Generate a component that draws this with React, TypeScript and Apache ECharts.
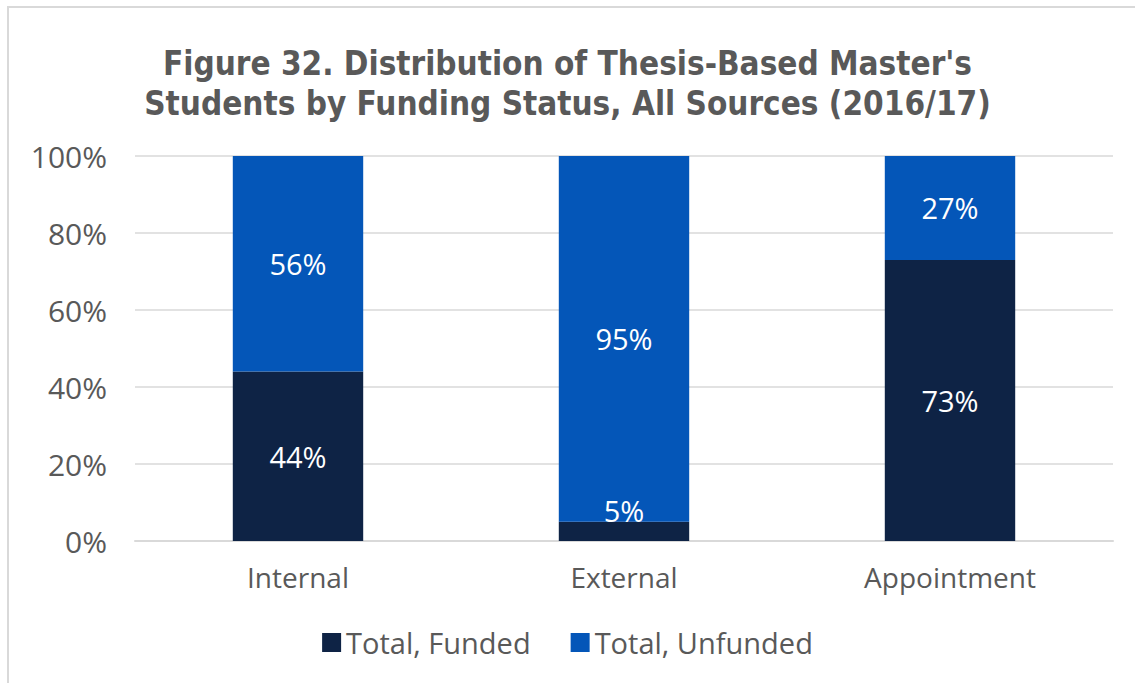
import React, { useEffect, useRef } from "react";
import * as echarts from "echarts";

const categories = ["Internal", "External", "Appointment"];
const funded = [44, 5, 73];
const unfunded = [56, 95, 27];
const seriesNames = ["Total, Funded", "Total, Unfunded"];
const titleText = "Figure 32. Distribution of Thesis-Based Master's\nStudents by Funding Status, All Sources (2016/17)";

export default function App() {
  const ref = useRef<HTMLDivElement>(null);
  useEffect(() => {
    const chart = echarts.init(ref.current!, null, { renderer: "svg" });
    const font = "'Open Sans', Lato, sans-serif";
    const labelBase = {
      show: true,
      color: "#ffffff",
      fontSize: 29,
      fontFamily: font,
      formatter: (p: any) => p.value + "%",
    };
    chart.setOption({
      animation: false,
      backgroundColor: "#ffffff",
      graphic: [
        {
          type: "rect",
          shape: { x: 8, y: 7, width: 1300, height: 900 },
          style: { fill: "none", stroke: "#d9d9d9", lineWidth: 2 },
          silent: true,
        },
      ],
      title: {
        text: titleText,
        left: "center",
        top: 38,
        textStyle: {
          fontFamily: "'DejaVu Sans Condensed', 'Liberation Sans Narrow', sans-serif",
          fontWeight: "bold",
          fontSize: 33,
          lineHeight: 40,
          color: "#595959",
        },
      },
      legend: {
        bottom: 21,
        left: "center",
        itemWidth: 19,
        itemHeight: 19,
        itemGap: 40,
        icon: "rect",
        textStyle: { fontSize: 29, color: "#595959", fontFamily: font },
        data: seriesNames,
      },
      grid: { left: 135, right: 22, top: 156, bottom: 142, containLabel: false },
      xAxis: {
        type: "category",
        data: categories,
        axisTick: { show: false },
        axisLine: { lineStyle: { color: "#d9d9d9", width: 2 } },
        axisLabel: { fontSize: 28, color: "#595959", fontFamily: font, margin: 22 },
      },
      yAxis: {
        type: "value",
        min: 0,
        max: 100,
        interval: 20,
        axisLabel: {
          fontSize: 30,
          color: "#595959",
          fontFamily: font,
          formatter: "{value}%",
          margin: 28,
        },
        splitLine: { lineStyle: { color: "#d9d9d9", width: 1.5 } },
        axisLine: { show: false },
        axisTick: { show: false },
      },
      series: [
        {
          name: seriesNames[0],
          type: "bar",
          stack: "total",
          barWidth: "40%",
          itemStyle: { color: "#0e2345" },
          label: { ...labelBase, position: "inside" },
          data: funded.map((v, i) =>
            i === 1 ? { value: v, label: { position: "top", distance: -3 } } : v
          ),
        },
        {
          name: seriesNames[1],
          type: "bar",
          stack: "total",
          barWidth: "40%",
          itemStyle: { color: "#0456b8" },
          label: { ...labelBase, position: "inside" },
          data: unfunded,
        },
      ],
    });
    return () => chart.dispose();
  }, []);
  return (
    <div
      ref={ref}
      style={{ position: "absolute", left: 0, top: 0, width: 1135, height: 683 }}
    />
  );
}
